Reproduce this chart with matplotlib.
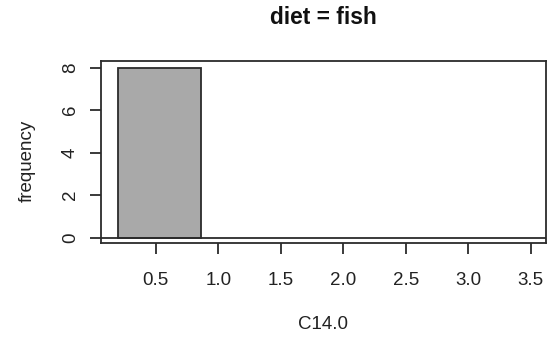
import numpy as np
import matplotlib
matplotlib.use("Agg")
import matplotlib.pyplot as plt

plt.rcParams['font.family'] = ['Liberation Sans', 'DejaVu Sans']

# histogram of C14.0 for the fish diet group
bin_edges = [0.2, 0.86]
counts = [8]
x_ticks = [0.5, 1.0, 1.5, 2.0, 2.5, 3.0, 3.5]
x_tick_labels = ["0.5", "1.0", "1.5", "2.0", "2.5", "3.0", "3.5"]
y_ticks = [0, 2, 4, 6, 8]
title = "diet = fish"
x_label = "C14.0"
y_label = "frequency"

fig = plt.figure(figsize=(5.47, 3.39), dpi=100)
ax = fig.add_axes([0.1846, 0.2832, 0.8134, 0.5378])

edges = np.array(bin_edges)
ax.bar(edges[:-1], counts, width=np.diff(edges), align='edge',
       color='#a9a9a9', edgecolor='#2b2b2b', linewidth=1.3, zorder=2)
ax.axhline(0, color='#2b2b2b', linewidth=1.3, zorder=3)

ax.set_xlim(0.062, 3.62)
ax.set_ylim(-0.25, 8.33)

ax.set_xticks(x_ticks)
ax.set_xticklabels(x_tick_labels)
ax.set_yticks(y_ticks)
ax.set_yticklabels([str(v) for v in y_ticks], rotation=90, va='center')

ax.tick_params(axis='x', direction='out', length=8, width=1.3, color='#2b2b2b',
               labelsize=13.5, pad=13, labelcolor='#222222')
ax.tick_params(axis='y', direction='out', length=8, width=1.3, color='#2b2b2b',
               labelsize=13.5, pad=8, labelcolor='#222222')

for s in ax.spines.values():
    s.set_linewidth(1.3)
    s.set_color('#2b2b2b')

fig.text(0.5914, 0.947, title, ha='center', va='center', fontsize=16.4,
         fontweight='bold', color='#111111')
fig.text(0.5914, 0.044, x_label, ha='center', va='center', fontsize=13.5,
         color='#222222')
fig.text(0.050, 0.5246, y_label, ha='center', va='center', rotation=90,
         fontsize=13.5, color='#222222')

fig.savefig("out.png", dpi=100)
